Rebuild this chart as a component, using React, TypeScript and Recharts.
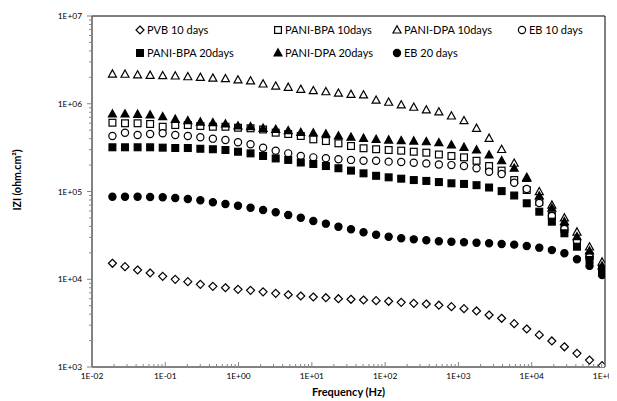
import React from 'react';
import { ScatterChart, Scatter, XAxis, YAxis, ReferenceArea } from 'recharts';

// Frequencies (Hz), ascending
const freqHz = [0.019, 0.0282, 0.0419, 0.0621, 0.0922, 0.1368, 0.203, 0.301, 0.446, 0.662, 0.982, 1.457, 2.16, 3.21, 4.76, 7.06, 10.47, 15.54, 23.05, 34.2, 50.7, 75.3, 111.7, 165.7, 245.8, 364.7, 541, 802.6, 1191, 1766, 2620, 3887, 5767, 8555, 12690, 18830, 27930, 41440, 61480, 91200];

// |Z| (ohm.cm2)
const pvb10 = [15200, 13900, 12740, 11780, 10800, 9980, 9380, 8750, 8300, 8000, 7670, 7470, 7190, 6910, 6660, 6440, 6280, 6160, 6000, 5910, 5800, 5700, 5610, 5460, 5320, 5220, 5060, 4870, 4620, 4350, 3910, 3590, 3120, 2710, 2320, 1980, 1700, 1430, 1200, 1036];
const bpa10 = [608000, 599000, 599000, 588000, 547000, 572000, 572000, 558000, 547000, 547000, 533000, 525000, 509000, 468000, 452000, 429000, 393000, 376000, 354000, 330000, 311000, 303000, 297000, 292000, 284000, 277000, 264000, 254000, 245000, 224000, 195000, 173000, 135000, 104000, 75900, 52600, 37400, 26600, 18400, 13400];
const dpa10 = [2180000, 2170000, 2130000, 2110000, 2090000, 2070000, 2030000, 2000000, 1960000, 1930000, 1870000, 1820000, 1680000, 1590000, 1540000, 1460000, 1410000, 1370000, 1320000, 1280000, 1260000, 1100000, 1040000, 969000, 912000, 850000, 806000, 725000, 641000, 525000, 404000, 301000, 210000, 145000, 99500, 70000, 50000, 34500, 23300, 15700];
const eb10 = [429000, 468000, 440000, 452000, 461000, 440000, 429000, 415000, 400000, 386000, 364000, 345000, 315000, 292000, 272000, 254000, 245000, 239000, 233000, 229000, 224000, 224000, 219000, 217000, 213000, 209000, 203000, 200000, 195000, 184000, 168000, 158000, 126000, 107000, 74000, 52600, 37400, 27300, 17900, 12700];
const bpa20 = [319000, 319000, 319000, 319000, 316000, 313000, 313000, 307000, 303000, 297000, 284000, 272000, 254000, 238000, 229000, 214000, 206000, 195000, 184000, 173000, 161000, 151000, 145000, 140000, 135000, 132000, 128000, 124000, 122000, 118000, 111000, 101000, 90000, 73400, 58900, 45300, 33400, 23500, 16600, 12700];
const dpa20 = [764000, 764000, 758000, 744000, 712000, 665000, 641000, 619000, 608000, 588000, 558000, 548000, 525000, 511000, 493000, 470000, 464000, 452000, 429000, 415000, 404000, 393000, 386000, 379000, 376000, 369000, 360000, 339000, 319000, 297000, 261000, 224000, 184000, 141000, 89000, 64400, 45300, 30600, 21000, 14200];
const eb20 = [87300, 87300, 87300, 86500, 85900, 84300, 82200, 79400, 75300, 72000, 68900, 65400, 61500, 57900, 54000, 50300, 46100, 43000, 39700, 37100, 34300, 32200, 30500, 29300, 28500, 27800, 27100, 26800, 26400, 26100, 25700, 25200, 24800, 23900, 22900, 21500, 19800, 16900, 14200, 11200];

const seriesNames = ['PVB 10 days', 'PANI-BPA 10days', 'PANI-DPA 10days', 'EB 10 days', 'PANI-BPA 20days', 'PANI-DPA 20days', 'EB 20 days'];

const xTickLabels = ['1E-02', '1E-01', '1E+00', '1E+01', '1E+02', '1E+03', '1E+04', '1E+05'];
const yTickLabels = ['1E+03', '1E+04', '1E+05', '1E+06', '1E+07'];

const FONT = 'Lato, "Open Sans", sans-serif';

const majorX = xTickLabels.map(Number);
const majorY = yTickLabels.map(Number);
const withMinors = (majors: number[]) => {
  const out: number[] = [];
  majors.forEach((m, i) => {
    out.push(m);
    if (i < majors.length - 1) for (let k = 2; k <= 9; k++) out.push(m * k);
  });
  return out;
};
const majorIndex = (majors: number[], v: number) => majors.findIndex((m) => Math.abs(m - v) / m < 1e-9);

const toPoints = (vals: number[]) => vals.map((z, i) => ({ f: freqHz[i], z }));

type MK = 'diamond' | 'square' | 'triangle' | 'circle';
const Marker = ({ kind, cx, cy, filled }: { kind: MK; cx: number; cy: number; filled: boolean }) => {
  const fill = filled ? '#000' : '#fff';
  const sw = 1.2;
  if (kind === 'diamond') {
    const r = 4;
    return <path d={`M${cx},${cy - r}L${cx + r},${cy}L${cx},${cy + r}L${cx - r},${cy}Z`} fill={fill} stroke="#000" strokeWidth={sw} />;
  }
  if (kind === 'square') {
    const h = 3.4;
    return <rect x={cx - h} y={cy - h} width={2 * h} height={2 * h} fill={fill} stroke="#000" strokeWidth={sw} />;
  }
  if (kind === 'triangle') {
    return <path d={`M${cx},${cy - 4.2}L${cx + 4},${cy + 3}L${cx - 4},${cy + 3}Z`} fill={fill} stroke="#000" strokeWidth={sw} strokeLinejoin="miter" />;
  }
  return <circle cx={cx} cy={cy} r={3.6} fill={fill} stroke="#000" strokeWidth={sw} />;
};

const series = [
  { name: seriesNames[0], values: pvb10, kind: 'diamond' as MK, filled: false },
  { name: seriesNames[1], values: bpa10, kind: 'square' as MK, filled: false },
  { name: seriesNames[2], values: dpa10, kind: 'triangle' as MK, filled: false },
  { name: seriesNames[3], values: eb10, kind: 'circle' as MK, filled: false },
  { name: seriesNames[4], values: bpa20, kind: 'square' as MK, filled: true },
  { name: seriesNames[5], values: dpa20, kind: 'triangle' as MK, filled: true },
  { name: seriesNames[6], values: eb20, kind: 'circle' as MK, filled: true },
];

const legendPos = [
  { x: 132, y: 22 },
  { x: 270, y: 22 },
  { x: 389, y: 22 },
  { x: 514, y: 22 },
  { x: 132, y: 45 },
  { x: 270, y: 45 },
  { x: 389, y: 45 },
];

const XTick = (props: any) => {
  const { x, y, payload } = props;
  const v = payload.value;
  const idx = majorIndex(majorX, v);
  if (idx < 0) {
    return <line x1={x} x2={x} y1={y} y2={y - 3} stroke="#868686" strokeWidth={1} />;
  }
  return (
    <g>
      <line x1={x} x2={x} y1={y} y2={y - 5} stroke="#868686" strokeWidth={1} />
      <text x={x} y={y + 12} textAnchor="middle" fontSize={8.4} fontFamily={FONT} fill="#000">
        {xTickLabels[idx]}
      </text>
    </g>
  );
};

const YTick = (props: any) => {
  const { x, y, payload } = props;
  const v = payload.value;
  const idx = majorIndex(majorY, v);
  if (idx < 0) {
    return <line x1={x} x2={x - 3} y1={y} y2={y} stroke="#868686" strokeWidth={1} />;
  }
  return (
    <g>
      <line x1={x} x2={x - 5} y1={y} y2={y} stroke="#868686" strokeWidth={1} />
      <text x={x - 10} y={y + 3} textAnchor="end" fontSize={8.4} fontFamily={FONT} fill="#000">
        {yTickLabels[idx]}
      </text>
    </g>
  );
};

const W = 609;
const H = 393;

export default function App() {
  return (
    <div style={{ position: 'relative', width: W, height: H, fontFamily: FONT }}>
      <style>{`html, body { overflow: hidden; } .recharts-wrapper, .recharts-surface { overflow: visible !important; }`}</style>
      <ScatterChart width={W} height={H} margin={{ top: 8, right: 12, bottom: 0, left: 0 }} style={{ overflow: 'visible' }}>
        <ReferenceArea x1={0.01} x2={100000} y1={1000} y2={10000000} fill="none" stroke="#000" strokeWidth={1} ifOverflow="visible" />
        <XAxis
          dataKey="f"
          type="number"
          scale="log"
          domain={[0.01, 100000]}
          allowDataOverflow
          ticks={withMinors(majorX)}
          interval={0}
          tickSize={0}
          tickMargin={0}
          tickLine={false}
          tick={<XTick />}
          axisLine={{ stroke: '#868686' }}
          height={34}
          label={{
            content: (p: any) => {
              const vb = p.viewBox || {};
              return (
                <text x={(vb.x ?? 84) + (vb.width ?? 513) / 2} y={388} textAnchor="middle" fontSize={11} fontWeight="bold" fontFamily={FONT} fill="#000">
                  Frequency (Hz)
                </text>
              );
            },
          }}
        />
        <YAxis
          dataKey="z"
          type="number"
          scale="log"
          domain={[1000, 10000000]}
          allowDataOverflow
          ticks={withMinors(majorY)}
          interval={0}
          tickSize={0}
          tickMargin={0}
          tickLine={false}
          tick={<YTick />}
          axisLine={{ stroke: '#868686' }}
          width={84}
          label={{
            content: () => (
              <text x={13} y={172} transform="rotate(-90 13 172)" textAnchor="middle" fontSize={10.5} fontWeight="bold" fontFamily={FONT} fill="#000">
                IZI (ohm.cm²)
              </text>
            ),
          }}
        />
        {series.map((s) => (
          <Scatter
            key={s.name}
            name={s.name}
            data={toPoints(s.values)}
            isAnimationActive={false}
            shape={(p: any) => <Marker kind={s.kind} cx={p.cx} cy={p.cy} filled={s.filled} />}
          />
        ))}
      </ScatterChart>
      <svg width={W} height={70} style={{ position: 'absolute', left: 0, top: 0, pointerEvents: 'none' }}>
        {series.map((s, i) => (
          <g key={s.name}>
            <Marker kind={s.kind} cx={legendPos[i].x} cy={legendPos[i].y} filled={s.filled} />
            <text x={legendPos[i].x + 7} y={legendPos[i].y + 4} fontSize={11} fontFamily={FONT} fill="#000">
              {s.name}
            </text>
          </g>
        ))}
      </svg>
    </div>
  );
}
